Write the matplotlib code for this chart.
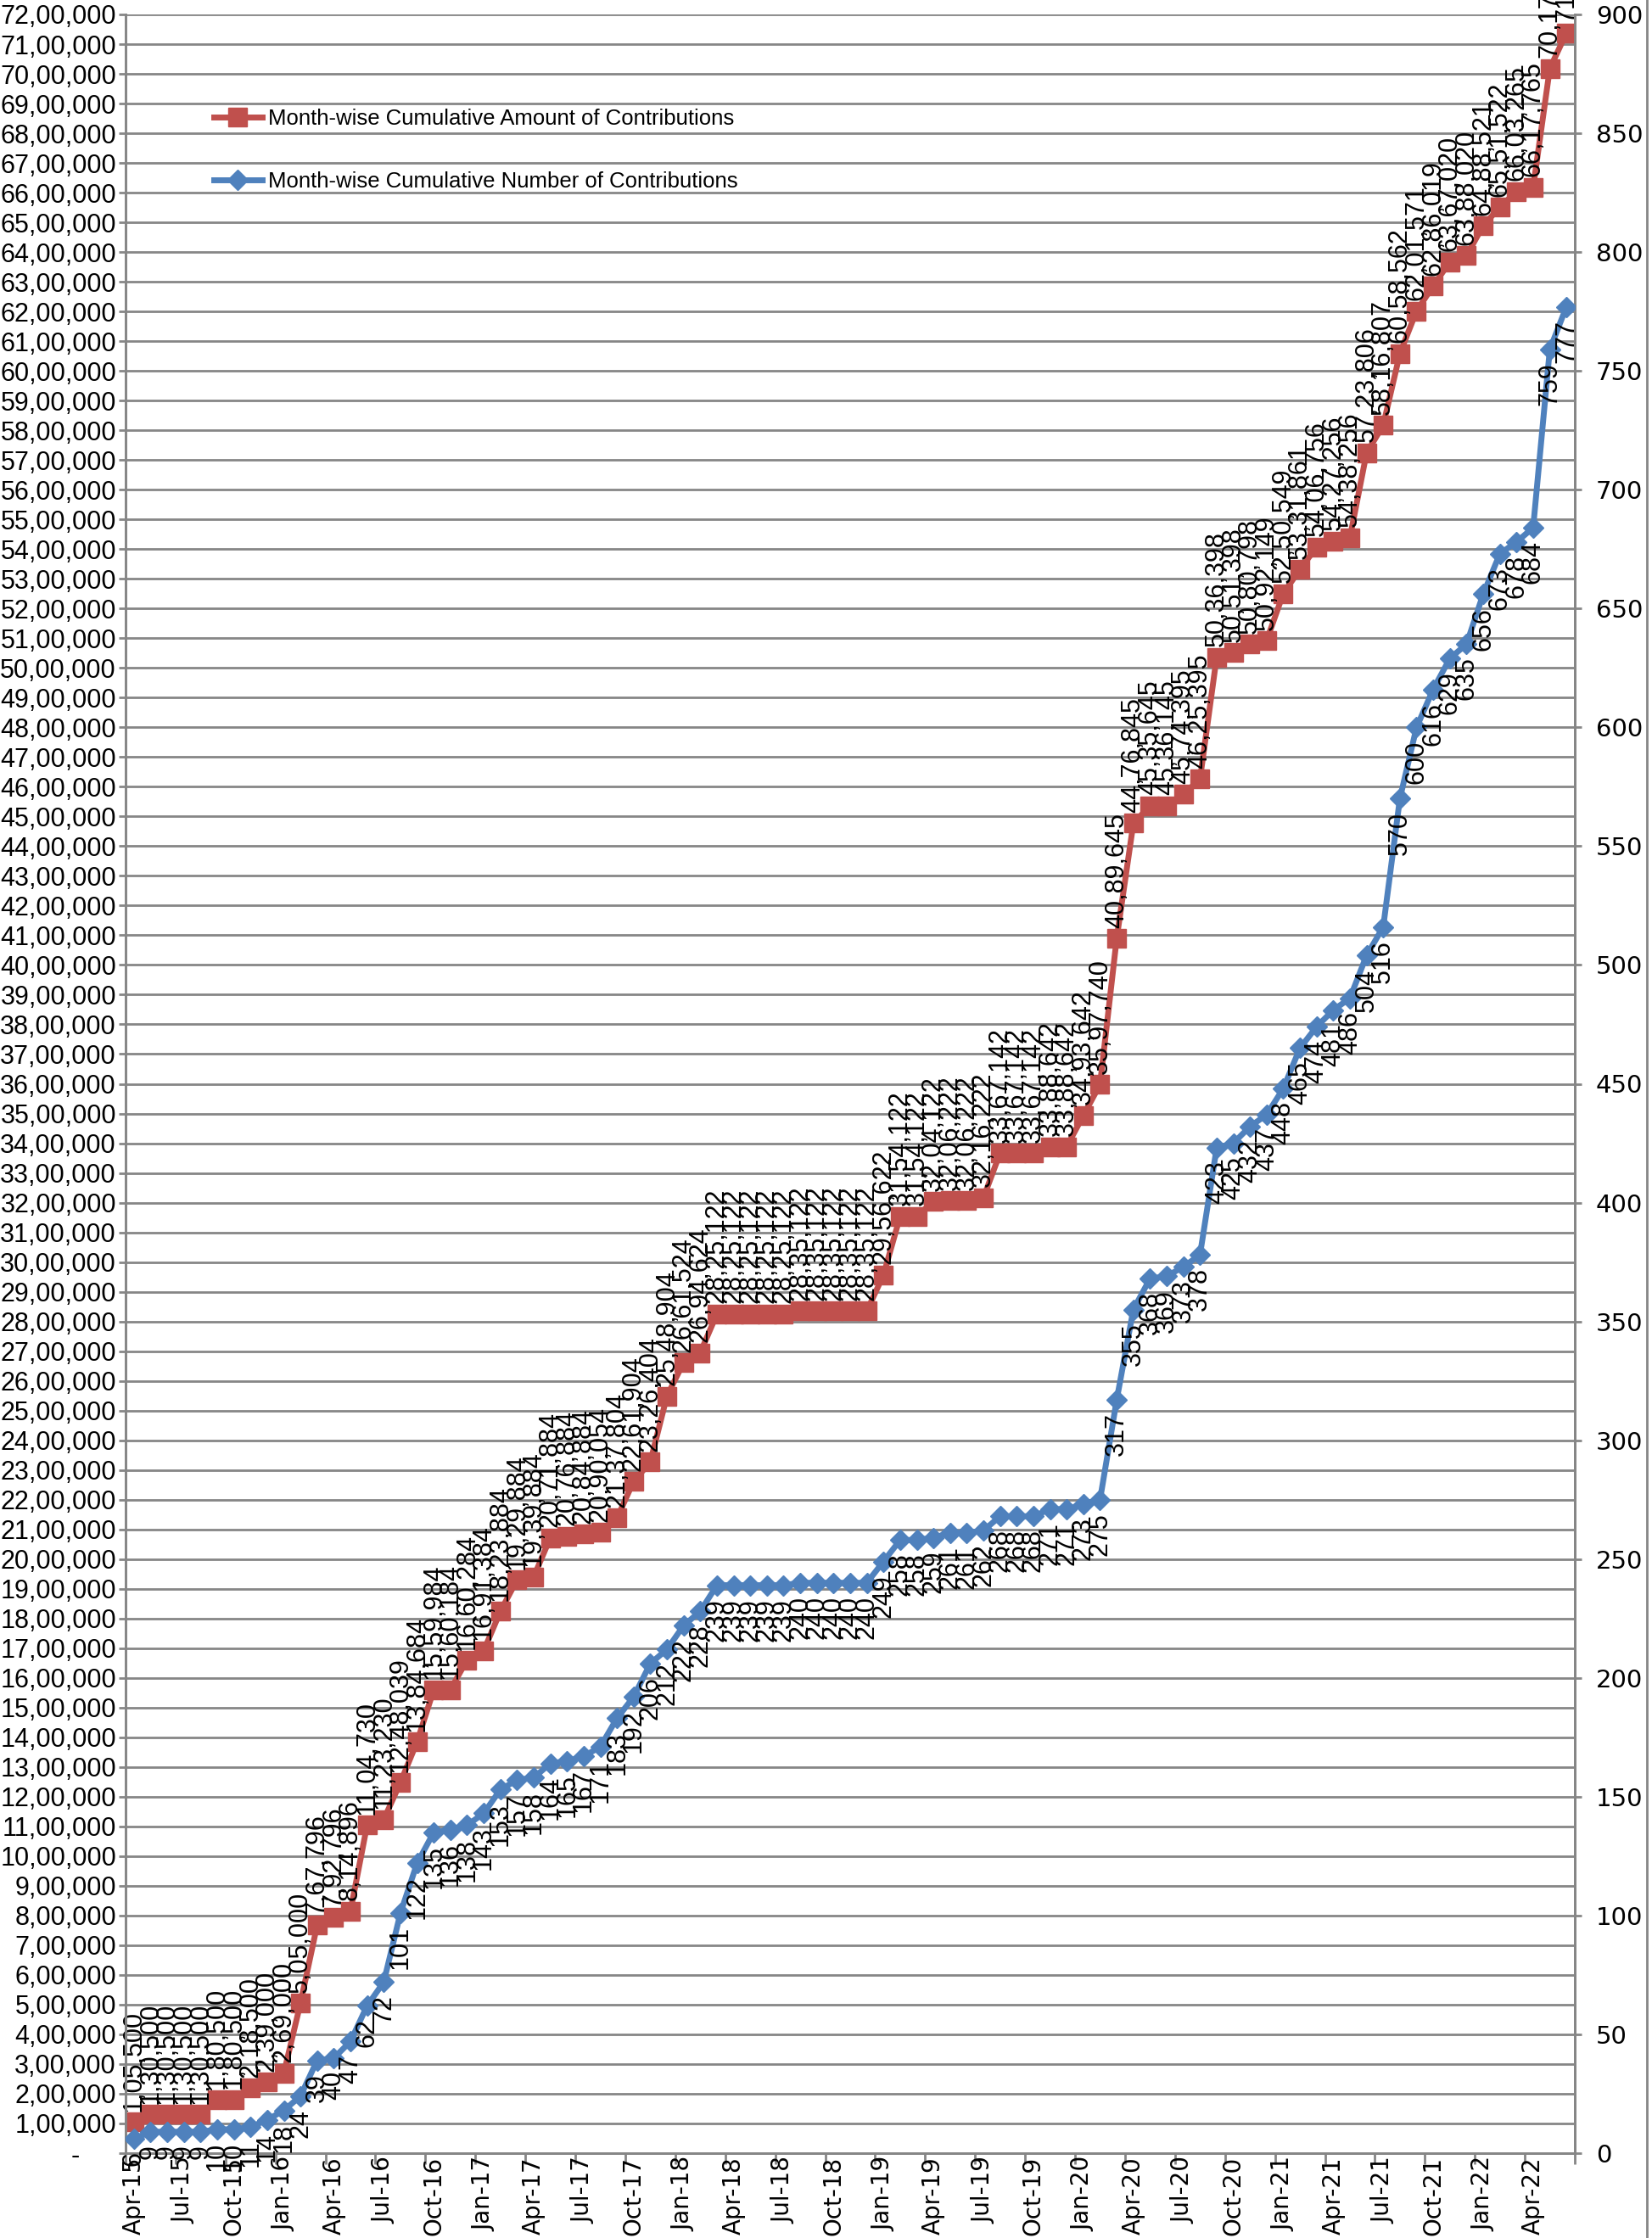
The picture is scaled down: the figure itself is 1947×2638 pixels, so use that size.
import matplotlib
matplotlib.use('Agg')
import matplotlib.pyplot as plt
import numpy as np
import pandas as pd
from matplotlib.lines import Line2D

months = list(pd.date_range('2015-04-01', periods=87, freq='MS').strftime('%b-%y'))

amount = [105500, 130500, 130500, 130500, 130500, 180500, 180500, 218500, 239000,
          269000, 505000, 767796, 792796, 814896, 1104730, 1123230, 1248039, 1384684,
          1559984, 1560184, 1660284,
          1691384, 1823884, 1929884, 1939884, 2071884, 2076884, 2084884, 2090054,
          2137804, 2261904, 2326404, 2548904,
          2661524, 2694624, 2825122, 2825122, 2825122, 2825122, 2825122, 2835122,
          2835122, 2835122, 2835122, 2835122,
          2956622, 3154122, 3154122, 3204122, 3206222, 3206222, 3216222, 3367142,
          3367142, 3367142, 3388642, 3388642,
          3493642, 3597740, 4089645, 4476845, 4535645, 4536145, 4574395, 4625395,
          5036398, 5051398, 5080798, 5092149,
          5250549, 5331861, 5406756, 5427256, 5438256, 5723806, 5816807, 6058562,
          6201571, 6286019, 6367020, 6388020,
          6488521, 6551522, 6603265, 6617765, 7017765, 7137765]

number = [6, 9, 9, 9, 9, 10, 10, 11, 14,
          18, 24, 39, 40, 47, 62, 72, 101, 122, 135, 136, 138,
          143, 153, 157, 158, 164, 165, 167, 171, 183, 192, 206, 212,
          222, 228, 239, 239, 239, 239, 239, 240, 240, 240, 240, 240,
          249, 258, 258, 259, 261, 261, 262, 268, 268, 268, 271, 271,
          273, 275, 317, 355, 368, 369, 373, 378, 423, 425, 432, 437,
          448, 465, 474, 481, 486, 504, 516, 570, 600, 616, 629, 635,
          656, 673, 678, 684, 759, 777]

amount_label = 'Month-wise Cumulative Amount of Contributions'
number_label = 'Month-wise Cumulative Number of Contributions'

RED = '#C0504D'
BLUE = '#4F81BD'
GRID = '#868686'
LAB_FONT = 'Liberation Sans'


def indian(v):
    v = int(round(v))
    if v == 0:
        return '-     '
    s = str(v)
    last3, rest = s[-3:], s[:-3]
    groups = []
    while len(rest) > 2:
        groups.insert(0, rest[-2:])
        rest = rest[:-2]
    if rest:
        groups.insert(0, rest)
    return ','.join(groups + [last3])


W, H = 1947, 2638
fig = plt.figure(figsize=(W / 100, H / 100), dpi=100)
L, R, T, B = 148, 1856, 17, 2538
ax = fig.add_axes([L / W, (H - B) / H, (R - L) / W, (B - T) / H])
ax2 = ax.twinx()

x = np.arange(len(months))
ax.set_xlim(-0.5, len(months) - 0.5)
ax.set_ylim(0, 7200000)
ax2.set_ylim(0, 900)

# gridlines
ax.set_yticks(np.arange(0, 7200001, 100000))
ax.set_yticklabels([indian(v) for v in np.arange(0, 7200001, 100000)],
                   fontfamily=LAB_FONT, fontsize=22)
ax.yaxis.grid(True, color=GRID, lw=2)
ax.set_axisbelow(True)
ax.tick_params(axis='y', length=6, width=2, color=GRID, pad=2)

ax2.set_yticks(np.arange(0, 901, 50))
ax2.set_yticklabels([str(v) for v in range(0, 901, 50)],
                    fontfamily='DejaVu Sans', fontsize=21)
ax2.tick_params(axis='y', length=6, width=2, color=GRID, pad=12)

# x ticks: marks at boundaries, labels at category centres
ax.set_xticks(np.arange(-0.5, len(months), 3))
ax.set_xticklabels([])
ax.tick_params(axis='x', which='major', length=9, width=2, color=GRID)
ax.set_xticks(x[::3], minor=True)
ax.set_xticklabels([months[i] for i in x[::3]], minor=True, rotation=90,
                   fontfamily='DejaVu Sans', fontsize=20)
ax.tick_params(axis='x', which='minor', length=0, pad=3)

for a in (ax, ax2):
    a.spines['top'].set_visible(False)
    for side in ('left', 'right', 'bottom'):
        a.spines[side].set_color(GRID)
        a.spines[side].set_linewidth(2)

ax.plot(x, amount, color=RED, lw=5, marker='s', ms=16, zorder=3)
ax2.plot(x, number, color=BLUE, lw=5, marker='D', ms=12, zorder=3)

for xi, v in zip(x, amount):
    ax.annotate(indian(v), (xi, v), xytext=(0, 9), textcoords='offset points',
                rotation=90, ha='center', va='bottom', fontsize=22,
                fontfamily=LAB_FONT, color='black', zorder=5)
for xi, v in zip(x, number):
    ax2.annotate(str(v), (xi, v), xytext=(0, -11), textcoords='offset points',
                 rotation=90, ha='center', va='top', fontsize=22,
                 fontfamily=LAB_FONT, color='black', zorder=5)

handles = [Line2D([], [], color=RED, lw=5, marker='s', ms=16),
           Line2D([], [], color=BLUE, lw=5, marker='D', ms=12)]
fig.legend(handles, [amount_label, number_label], loc='upper left',
           bbox_to_anchor=(252 / W, 1 - 128 / H), frameon=False,
           prop={'family': LAB_FONT, 'size': 18.5}, labelspacing=1.95,
           handlelength=2.2, handletextpad=0.3, borderpad=0, borderaxespad=0)

fig.add_artist(Line2D([1941 / W, 1941 / W], [0, 1], transform=fig.transFigure,
                      color=GRID, lw=2))

fig.savefig('out.png', dpi=100)
